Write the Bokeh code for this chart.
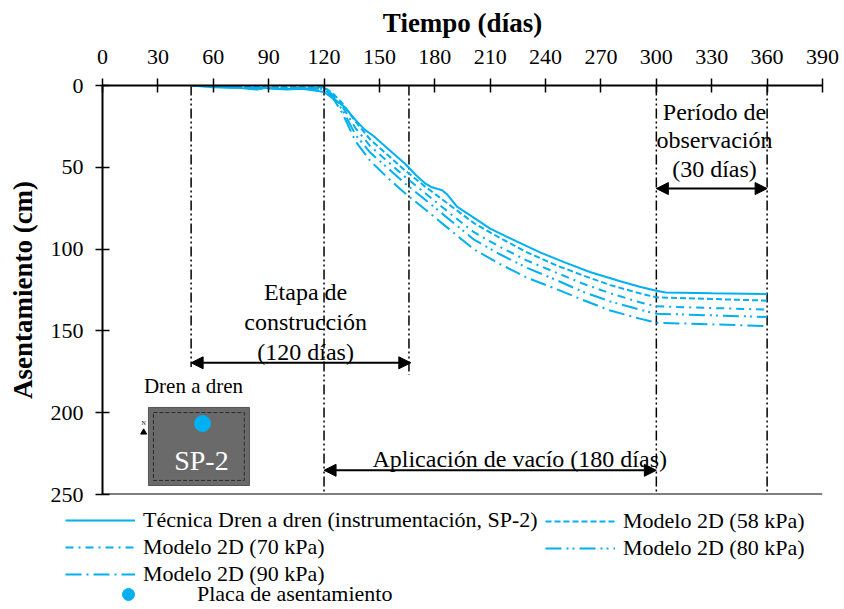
from bokeh.plotting import figure
from bokeh.layouts import column
from bokeh.models import (LinearAxis, Range1d, FixedTicker, Span, Arrow, NormalHead,
                          Label, Legend, LegendItem)
from bokeh.embed import file_html
from bokeh.resources import INLINE
from bokeh.core.properties import value

# ---------------- data ----------------
meas_day = [48, 60, 75, 84, 87, 92, 100, 108, 115, 120, 125, 131, 137, 142, 147, 152, 158,
            164, 170, 175, 178, 184, 187, 192, 200, 210, 220, 237, 250, 264, 280, 291, 300,
            305, 330, 360]
meas_cm = [0, 1, 1.5, 2.5, 1, 2, 2.5, 2, 3, 4, 8, 13, 21, 27, 31, 36, 42,
           48, 55, 60, 62, 64, 67, 74, 80, 87.5, 93, 102, 108, 114, 119.5, 123, 125.5,
           126.5, 127, 127.5]

model_day = [48, 84, 120, 125, 130, 137, 145, 155, 164, 175, 188, 201, 215, 230, 246, 260,
             275, 291, 300, 330, 360]
m58 = [0, 1, 1, 5, 11, 22, 33, 43, 52, 62, 73, 84, 93, 102, 110, 116, 122, 127, 129.5, 130.5, 131.5]
m70 = [0, 1.5, 1.5, 6, 13, 26, 37, 47, 56, 66, 78, 89.5, 98.5, 107, 114.5, 121, 127, 132.5, 135, 136, 137]
m80 = [0, 1.5, 2, 7, 15, 30, 41, 51, 60, 70, 82, 94, 103, 111.5, 119, 126, 132, 137, 139.5, 140.5, 141.5]
m90 = [0, 2, 2, 8, 17, 34, 46, 57, 66, 76, 88, 100, 109, 117.5, 124.5, 131, 137.5, 142.5, 145, 146, 147]

x_ticks = list(range(0, 391, 30))
y_ticks = list(range(0, 251, 50))

# stage markers (days) and how far down they reach (cm)
stage_day = [48, 120, 166, 300, 360]
stage_end = [172, 250, 177, 250, 250]

plate_day = [54.2]
plate_cm = [206.6]

BLUE = "#00B0F0"
SERIF = "Liberation Serif"

p = figure(width=844, height=508, output_backend="svg", toolbar_location=None,
           x_range=Range1d(0, 390), y_range=Range1d(250, 0),
           x_axis_location=None, y_axis_location=None,
           min_border_left=102, min_border_right=22, min_border_top=85, min_border_bottom=14)
p.grid.visible = False
p.outline_line_color = None
p.background_fill_color = "white"

xa = LinearAxis(ticker=FixedTicker(ticks=x_ticks), axis_label="Tiempo (días)")
ya = LinearAxis(ticker=FixedTicker(ticks=y_ticks), axis_label="Asentamiento (cm)")
for ax in (xa, ya):
    ax.major_label_text_font = SERIF
    ax.major_label_text_font_size = "22px"
    ax.major_label_text_color = "black"
    ax.axis_label_text_font = SERIF
    ax.axis_label_text_font_size = "27px"
    ax.axis_label_text_font_style = "bold"
    ax.axis_label_text_color = "black"
    ax.axis_line_color = "black"
    ax.axis_line_width = 2
    ax.major_tick_line_color = "black"
    ax.major_tick_line_width = 1.5
    ax.major_tick_in = 7
    ax.major_tick_out = 7
    ax.minor_tick_line_color = None
xa.major_label_standoff = 15
xa.axis_label_standoff = 9
ya.major_label_standoff = 12
ya.axis_label_standoff = 10
p.add_layout(xa, "above")
p.add_layout(ya, "left")

p.add_layout(Span(location=250, dimension="width", line_color="black", line_width=2))

# stage vertical lines
p.segment(x0=stage_day, y0=[0] * 5, x1=stage_day, y1=stage_end, line_color="black",
          line_width=1.5, line_dash="10 3 2 3 2 3")

# inset box (SP-2)
p.quad(left=[24.9], right=[79.6], top=[196.8], bottom=[244.5], fill_color="#6a6a6a",
       line_color="#555555", line_width=1)
p.quad(left=[27.6], right=[76.8], top=[199.9], bottom=[241.4], fill_alpha=0,
       line_color="#2a2a2a", line_width=1, line_dash="4 2")
p.text(x=[53.6], y=[229.5], text=["SP-2"], text_font=value(SERIF), text_font_size="28px",
       text_color="white", text_align="center", text_baseline="middle")
p.scatter(x=[22.3], y=[212], marker="triangle", size=6, fill_color="black", line_color="black")
p.text(x=[22.3], y=[206.5], text=["N"], text_font=value(SERIF), text_font_size="6px",
       text_color="black", text_align="center", text_baseline="middle")

# series
line_styles = {
    "meas": dict(line_color=BLUE, line_width=2),
    "m58": dict(line_color=BLUE, line_width=2, line_dash="6 3"),
    "m70": dict(line_color=BLUE, line_width=2, line_dash="8 5 2 5"),
    "m80": dict(line_color=BLUE, line_width=2, line_dash="16 5 2 4 2 5"),
    "m90": dict(line_color=BLUE, line_width=2, line_dash="16 5 2 5"),
}
p.line(meas_day, meas_cm, **line_styles["meas"])
p.line(model_day, m58, **line_styles["m58"])
p.line(model_day, m70, **line_styles["m70"])
p.line(model_day, m80, **line_styles["m80"])
p.line(model_day, m90, **line_styles["m90"])
p.scatter(plate_day, plate_cm, size=16, fill_color=BLUE, line_color=BLUE)

# arrows
for (a, b, yy) in [(48, 167, 169.5), (120, 300, 235.2), (300, 360, 63)]:
    p.add_layout(Arrow(x_start=a, x_end=b, y_start=yy, y_end=yy, line_color="black",
                       line_width=2,
                       start=NormalHead(size=12, fill_color="black", line_color="black"),
                       end=NormalHead(size=12, fill_color="black", line_color="black")))

def lab(x, y, t, size="24px"):
    p.add_layout(Label(x=x, y=y, text=t, text_font=SERIF, text_font_size=size,
                       text_color="black", text_align="center", text_baseline="middle"))

lab(110, 126.5, "Etapa de")
lab(110, 144.8, "construcción")
lab(110, 163, "(120 días)")
lab(331.5, 16.3, "Período de")
lab(331.5, 33.6, "observación")
lab(331.5, 51, "(30 días)")
lab(226, 228, "Aplicación de vacío (180 días)")
lab(49.3, 183.4, "Dren a dren", "21px")

# ---------------- legend panel ----------------
lf = figure(width=844, height=101, output_backend="svg", toolbar_location=None,
            x_range=Range1d(0, 1), y_range=Range1d(0, 1),
            x_axis_location=None, y_axis_location=None,
            min_border_left=0, min_border_right=0, min_border_top=0, min_border_bottom=0)
if "frame_align" in lf.properties():
    lf.frame_align = False
    p.frame_align = False
lf.grid.visible = False
lf.outline_line_color = None

# dummy (off-range) points so that legend swatches have something to draw from
lr = {k: lf.line([-5, -4], [-5, -4], **v) for k, v in line_styles.items()}
lr_plate = lf.scatter([-5], [-5], size=16, fill_color=BLUE, line_color=BLUE)

common = dict(glyph_width=70, glyph_height=20, label_height=20, spacing=1, padding=0,
              margin=0, label_standoff=8, label_text_font=SERIF, label_text_font_size="22px",
              label_text_color="black", border_line_color=None, background_fill_alpha=0,
              orientation="vertical")
leg1 = Legend(items=[LegendItem(label="Técnica Dren a dren (instrumentación, SP-2)", renderers=[lr["meas"]]),
                     LegendItem(label="Modelo 2D (70 kPa)", renderers=[lr["m70"]]),
                     LegendItem(label="Modelo 2D (90 kPa)", renderers=[lr["m90"]])],
              location=(65, 22), **common)
leg2 = Legend(items=[LegendItem(label="Modelo 2D (58 kPa)", renderers=[lr["m58"]]),
                     LegendItem(label="Modelo 2D (80 kPa)", renderers=[lr["m80"]])],
              location=(545, 48), **common)
c3 = dict(common)
c3.update(glyph_width=30, glyph_height=30, label_height=30, label_standoff=54)
leg3 = Legend(items=[LegendItem(label="Placa de asentamiento", renderers=[lr_plate])],
              location=(113, 0), **c3)
for lg in (leg1, leg2, leg3):
    lf.add_layout(lg)

layout = column(p, lf, spacing=0)
open("out.html", "w").write(file_html(layout, INLINE))
